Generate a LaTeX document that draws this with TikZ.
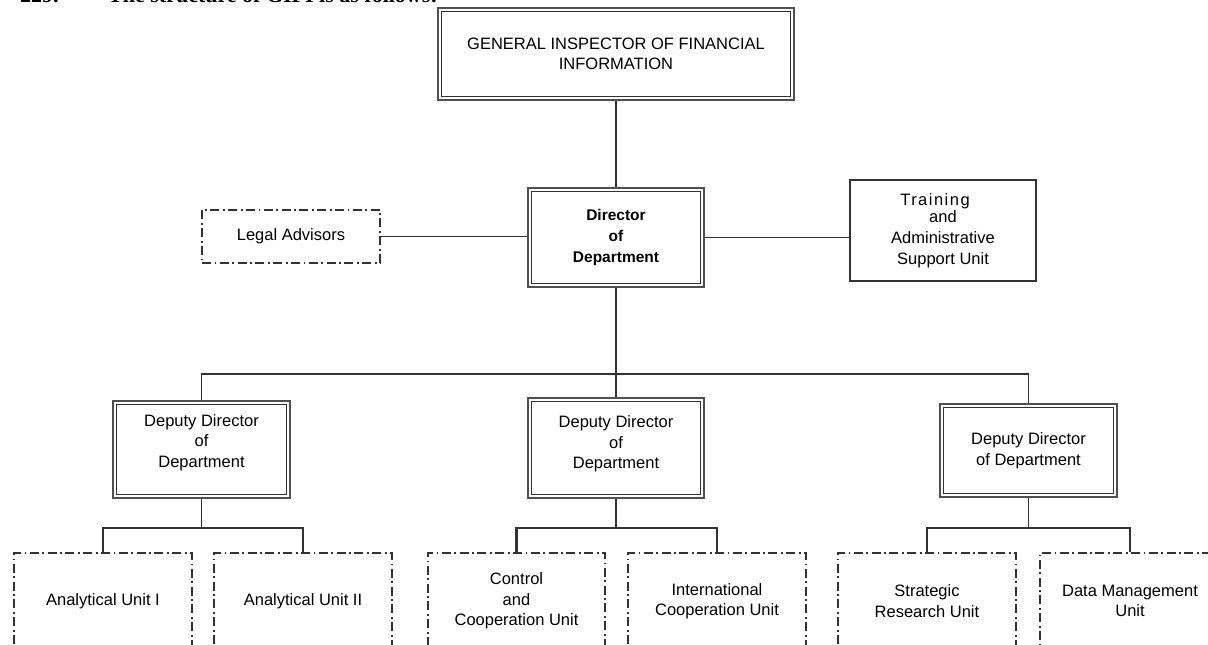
\documentclass[tikz,border=0pt]{standalone}
\usepackage{fontspec}
\setmainfont{Liberation Sans}
\newfontfamily\capserif{Liberation Serif}
\definecolor{lineg}{HTML}{333333}
\definecolor{outg}{HTML}{505050}
\newcommand\boxfont{\fontsize{16.5}{20.5}\selectfont}
\tikzset{
  conn/.style={draw=lineg, line width=1.9pt},
  thickconn/.style={draw=lineg, line width=2.7pt},
  dblbox/.style={draw=outg, line width=2.8pt, fill=white, inner sep=0pt, align=center, font=\boxfont},
  innerline/.style={draw=lineg, line width=1.1pt},
  plainbox/.style={draw=lineg, line width=2pt, fill=white, inner sep=0pt, align=center, font=\boxfont},
  dashbox/.style={draw=lineg, line width=2pt, dash pattern=on 9pt off 3.5pt on 1.8pt off 3.5pt, fill=white, inner sep=0pt, align=center, font=\boxfont},
  lbl/.style={align=center, font=\boxfont, inner sep=0pt}
}
\begin{document}
\begin{tikzpicture}[x=1pt,y=-1pt]
\useasboundingbox (0,0) rectangle (1208,645);
\clip (0,0) rectangle (1208,645);
\fill[white] (0,0) rectangle (1208,645);

% clipped caption line at top
\node[anchor=base west, inner sep=0pt, font=\capserif\bfseries\fontsize{22}{24}\selectfont] (capnum) at (20,2) {229.};
\node[anchor=base west, inner sep=0pt, font=\capserif\bfseries\fontsize{22}{24}\selectfont] (captext) at (108,2) {The structure of GIFI is as follows:};

% top level
\node[dblbox, minimum width=356pt, minimum height=92pt] (gifi) at (616,54) {GENERAL INSPECTOR OF FINANCIAL\\INFORMATION};
\node[dblbox, minimum width=176pt, minimum height=99pt, font=\boxfont\bfseries\fontsize{15.5}{21}\selectfont] (dir) at (616,237.5) {Director\\of\\Department};
\node[dashbox, minimum width=178pt, minimum height=53pt] (legal) at (291,236.5) {Legal Advisors};
\node[plainbox, minimum width=186pt, minimum height=101pt] (train) at (943,230.5)
  {\hspace*{-16pt}{\addfontfeature{LetterSpace=9}Training}\\[-3.5pt]and\\[1pt]Administrative\\Support Unit};

% deputies
\node[dblbox, minimum width=177pt, minimum height=97pt,
  label={[lbl, yshift=7pt]center:Deputy Director\\of\\Department}] (depL) at (201.5,449.5) {};
\node[dblbox, minimum width=176pt, minimum height=100pt,
  label={[lbl, yshift=4pt]center:Deputy Director\\of\\Department}] (depM) at (616,448) {};
\node[dblbox, minimum width=177pt, minimum height=93pt] (depR) at (1028.5,450.5) {Deputy Director\\of Department};

% inner lines of double boxes
\foreach \n in {gifi,dir,depL,depM,depR}
  \draw[innerline] ([xshift=4.5pt,yshift=-4.5pt]\n.north west) rectangle ([xshift=-4.5pt,yshift=4.5pt]\n.south east);

% units
\node[dashbox, minimum width=178pt, minimum height=96pt] (au1) at (103,601) {Analytical Unit I};
\node[dashbox, minimum width=178pt, minimum height=96pt] (au2) at (303,601) {Analytical Unit II};
\node[dashbox, minimum width=177pt, minimum height=96pt] (ctrl) at (516.5,601) {Control\\and\\Cooperation Unit};
\node[dashbox, minimum width=178pt, minimum height=96pt] (intl) at (717,601) {International\\Cooperation Unit};
\node[dashbox, minimum width=178pt, minimum height=96pt] (strat) at (927,601) {Strategic\\Research Unit};
\node[dashbox, minimum width=180pt, minimum height=96pt] (data) at (1130,601) {Data Management\\Unit};

% connectors
\coordinate (bus) at (616,374);
\coordinate (sbL) at (201.5,528);
\coordinate (sbM) at (616,528);
\coordinate (sbR) at (1028.5,528);

\draw[conn] (gifi.south) -- (dir.north);
\draw[conn] (legal.east) -- (legal.east -| dir.west);
\draw[conn] (dir.east) -- (dir.east -| train.west);
\draw[conn] (dir.south) -- (depM.north);
\draw[conn] (depL.north) |- (bus) -| (depR.north);

\draw[conn] (depL.south) -- (sbL);
\draw[thickconn] (au1.north) |- (sbL) -| (au2.north);
\draw[conn] (depM.south) -- (sbM);
\draw[thickconn] (ctrl.north) |- (sbM) -| (intl.north);
\draw[conn] (depR.south) -- (sbR);
\draw[thickconn] (strat.north) |- (sbR) -| (data.north);
\end{tikzpicture}
\end{document}
